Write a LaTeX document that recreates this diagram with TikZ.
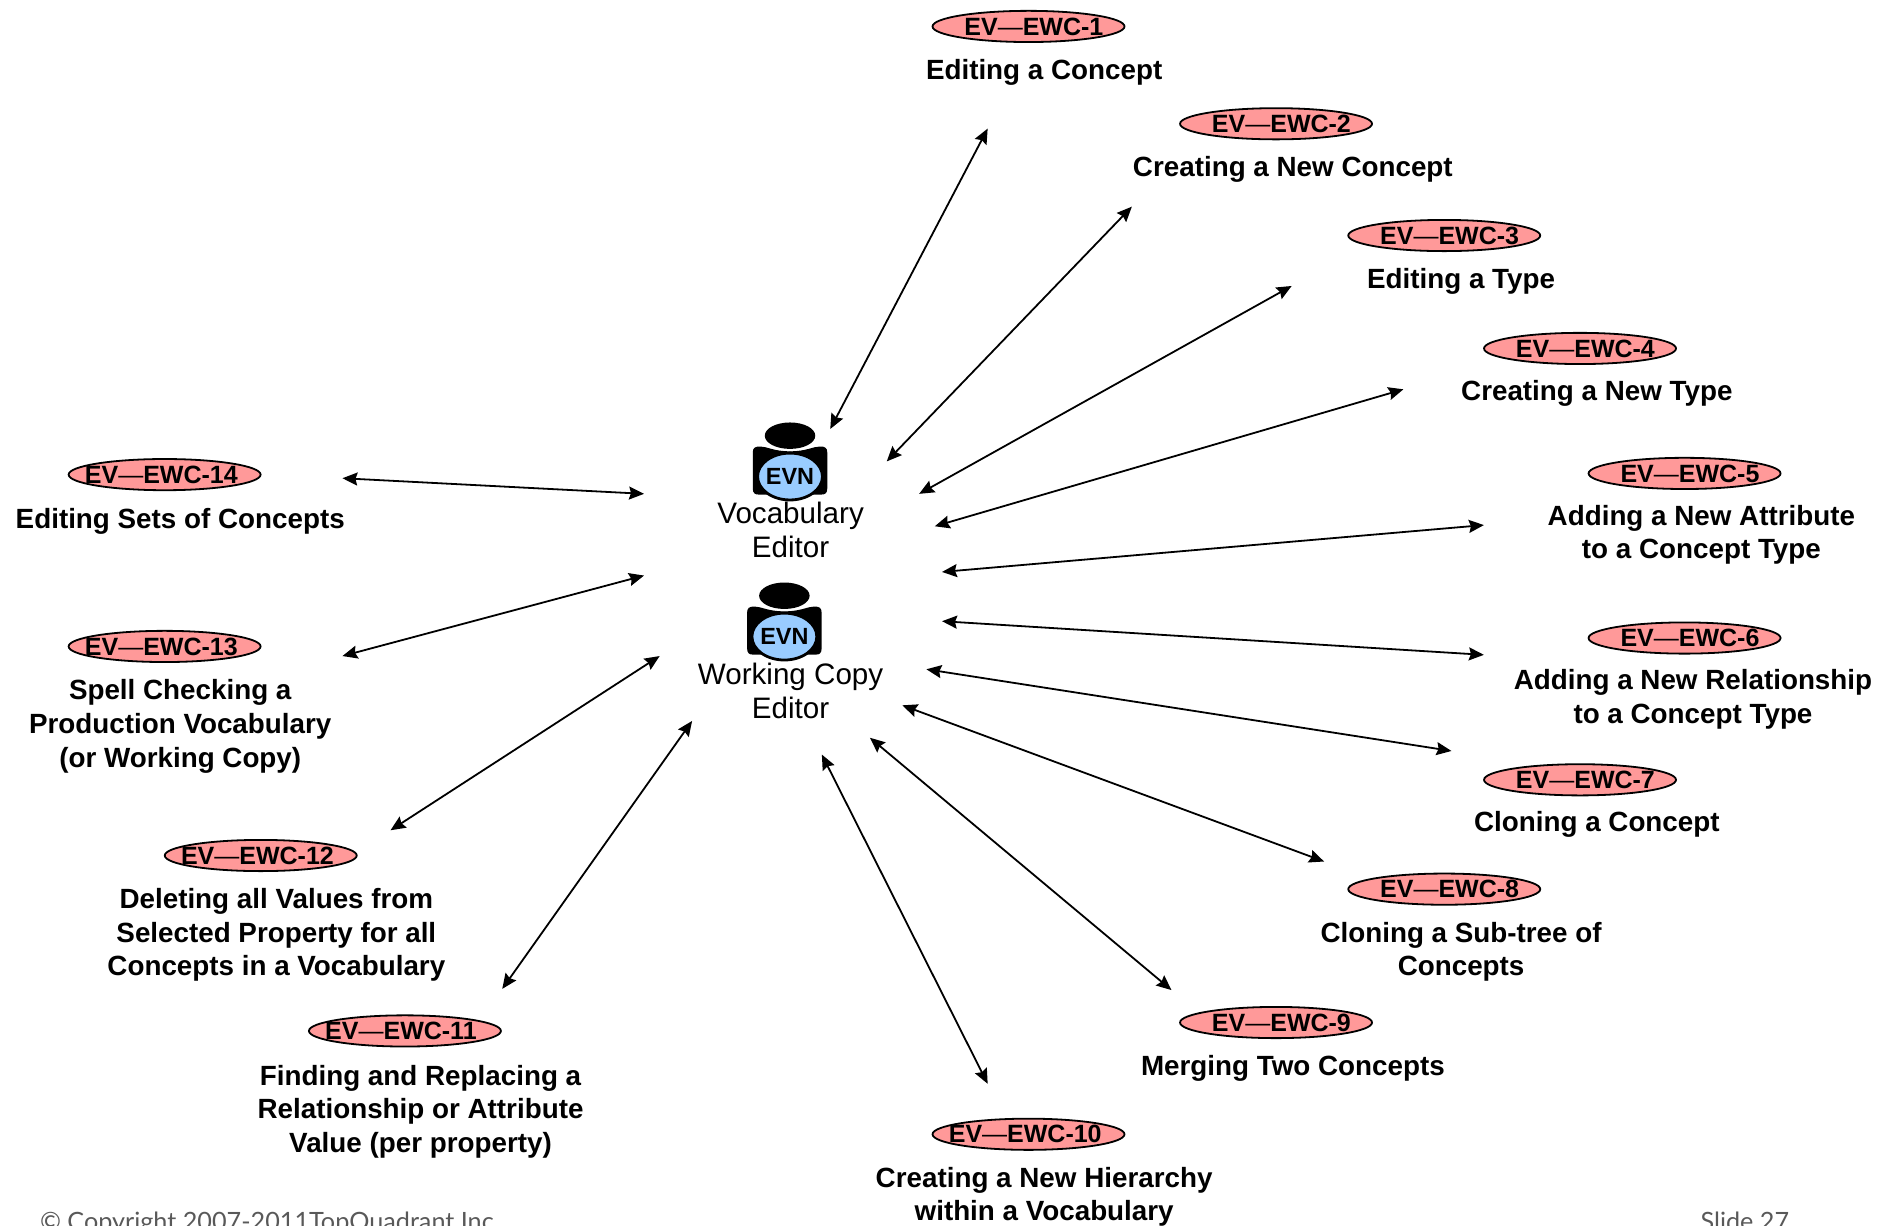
\documentclass[tikz,border=0pt]{standalone}
\usepackage{fontspec}
\setmainfont{Liberation Sans}
\newfontfamily\footfont{Lato}
\usetikzlibrary{calc}
\usetikzlibrary{arrows.meta}
\usetikzlibrary{shapes.geometric}
\definecolor{tagpink}{HTML}{FF9999}
\definecolor{evnblue}{HTML}{99CCFF}
\definecolor{footgray}{HTML}{595959}
\tikzset{
  tagoval/.style={ellipse, draw=black, line width=.9pt, fill=tagpink, minimum width=96pt, minimum height=15.6pt, inner sep=0},
  tagtext/.style={anchor=west, inner sep=0, font=\fontsize{12.5}{15}\selectfont\bfseries},
  usecase/.style={align=center, inner sep=0, font=\fontsize{13.9}{16.8}\selectfont\bfseries},
  actorname/.style={align=center, inner sep=0, font=\fontsize{14.8}{17.4}\selectfont},
  link/.style={black, line width=.9pt, {Stealth[length=7.5pt, width=6.5pt, inset=1pt]}-{Stealth[length=7.5pt, width=6.5pt, inset=1pt]}},
  foot/.style={anchor=base west, inner sep=0, text=footgray, font=\footfont\fontsize{12.6}{14}\selectfont}
}
\begin{document}
\begin{tikzpicture}[x=.6008pt, y=.6008pt]
\useasboundingbox (0,0) rectangle (1568,-1019.6);
\foreach \n/\tx/\ty/\ox/\lx/\ly/\txt in {
  1/856/22/27/869/60/{Editing a Concept},
  2/1062/103/27/1076/141/{Creating a New Concept},
  3/1202/196/27/1216/234/{Editing a Type},
  4/1315/290/27/1329/327.5/{Creating a New Type},
  5/1402/394/27/1416/445/{Adding a New Attribute\\to a Concept Type},
  6/1402/531/27/1409/582/{Adding a New Relationship\\to a Concept Type},
  7/1315/649/27/1329/686.5/{Cloning a Concept},
  8/1202/740/27/1216/792/{Cloning a Sub-tree of\\Concepts},
  9/1062/851/27/1076/889.5/{Merging Two Concepts},
  10/856/944/14/869/996/{Creating a New Hierarchy\\within a Vocabulary},
  11/337/858/14/350/925/{Finding and Replacing a\\Relationship or Attribute\\Value (per property)},
  12/217/712/14/230/778/{Deleting all Values from\\Selected Property for all\\Concepts in a Vocabulary},
  13/137/538/14/150/604.5/{Spell Checking a\\Production Vocabulary\\(or Working Copy)},
  14/137/395/14/150/433.5/{Editing Sets of Concepts}} {
 \node[tagoval] (tag\n) at (\tx,-\ty) {};
 \node[tagtext] (tagtext\n) at ($(tag\n.west)+(\ox,0)$) {EV{\mdseries—}EWC-\n};
 \node[usecase] (case\n) at (\lx,-\ly) {\txt};
}
\foreach \a/\hx/\hy/\ly/\txt in {
  vocab/657.5/362.6/441/{Vocabulary\\Editor},
  working/652.8/495.8/575/{Working Copy\\Editor}} {
 \begin{scope}[shift={(\hx,-\hy)}]
 \fill[black] (0,0) ellipse (21 and 11);
 \fill[black] (-31,-14) .. controls (-31,-10) and (-29,-9) .. (-25,-9) .. controls (-19,-9) and (-14,-13) .. (0,-13) .. controls (14,-13) and (19,-9) .. (25,-9) .. controls (29,-9) and (31,-10) .. (31,-14) -- (31,-44) .. controls (31,-48) and (29,-49) .. (26,-49) -- (-26,-49) .. controls (-29,-49) and (-31,-48) .. (-31,-44) -- cycle;
 \draw[black, fill=evnblue, line width=1.4pt] (0,-34) ellipse (27 and 19.5);
 \node[inner sep=0, font=\fontsize{11.7}{14}\selectfont\bfseries] (evn\a) at (0,-34) {EVN};
 \end{scope}
 \node[actorname] (name\a) at (658,-\ly) {\txt};
}
\foreach \n/\ax/\ay/\bx/\by in {
  1/691/357/822/107, 2/738/384/942/172, 3/765/411/1075/238, 4/778/438/1168/324,
  5/784/476/1235/437, 6/784/517/1235/545, 7/771/557/1208/625, 8/751/587/1102/717,
  9/724/614/975/824, 10/684/628/822/902, 11/576/600/418/823, 12/549/546/325/691,
  13/536/479/285/546, 14/536/411/285/398} {
 \coordinate (in\n) at (\ax,-\ay);
 \coordinate (out\n) at (\bx,-\by);
 \draw[link] (in\n) -- (out\n);
}
\node[foot] (copyright) at (33,-1024) {© Copyright 2007-2011TopQuadrant Inc.};
\node[foot] (slide) at (1415,-1024) {Slide 27};
\end{tikzpicture}
\end{document}
